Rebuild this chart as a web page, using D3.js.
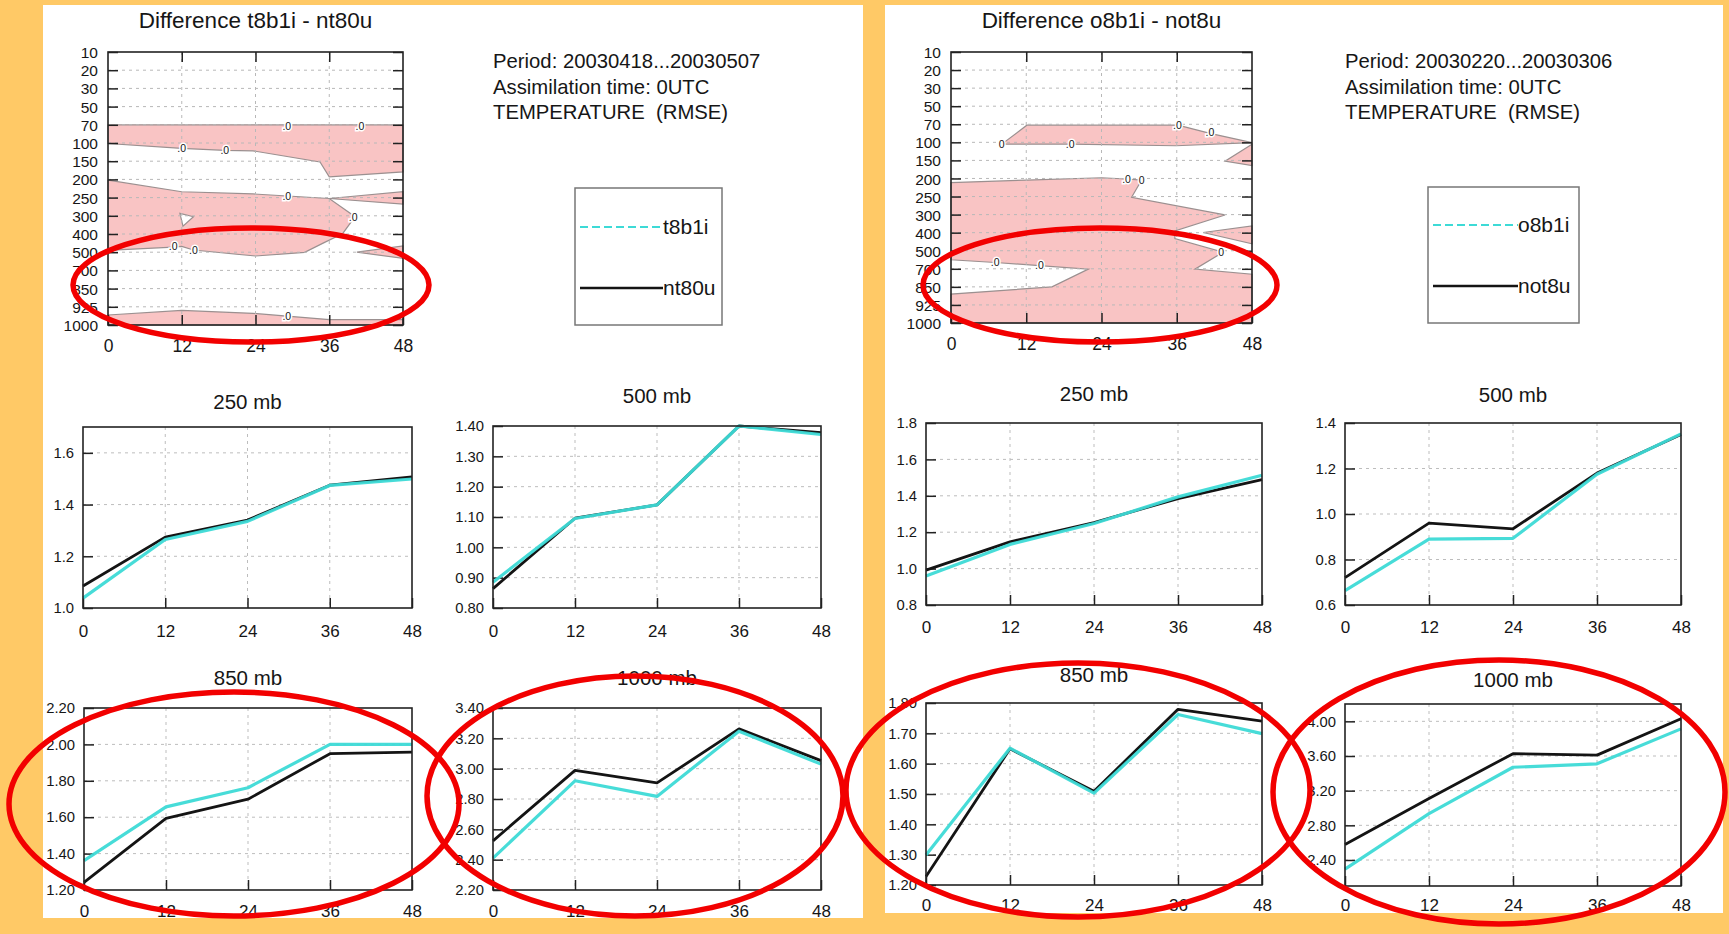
<!DOCTYPE html>
<html><head><meta charset="utf-8">
<script src="https://cdn.jsdelivr.net/npm/d3@7"></script>
<style>
html,body{margin:0;padding:0;background:#FFC966;}
svg{display:block;}
text{font-family:"Liberation Sans",Arial,Helvetica,sans-serif;fill:#161616;}
</style></head><body>
<svg id="c" width="1729" height="934"></svg>
<script>
// ---------------- DATA ----------------
const hours = [0, 12, 24, 36, 48];
const levels = ["10","20","30","50","70","100","150","200","250","300","400","500","700","850","925","1000"];

const titleA = "Difference t8b1i - nt80u";
const titleB = "Difference o8b1i - not8u";
const infoA = ["Period: 20030418...20030507", "Assimilation time: 0UTC", "TEMPERATURE  (RMSE)"];
const infoB = ["Period: 20030220...20030306", "Assimilation time: 0UTC", "TEMPERATURE  (RMSE)"];
const seriesA = ["t8b1i", "nt80u"];
const seriesB = ["o8b1i", "not8u"];
const levelTitles = ["250 mb", "500 mb", "850 mb", "1000 mb"];

// RMSE values per forecast hour
const A250_t8b1i  = [1.038, 1.265, 1.335, 1.474, 1.499];
const A250_nt80u  = [1.085, 1.274, 1.340, 1.475, 1.507];
const A500_t8b1i  = [0.885, 1.095, 1.140, 1.400, 1.372];
const A500_nt80u  = [0.864, 1.096, 1.140, 1.400, 1.378];
const A850_t8b1i  = [1.361, 1.657, 1.762, 2.000, 2.000];
const A850_nt80u  = [1.242, 1.594, 1.699, 1.949, 1.958];
const A1000_t8b1i = [2.410, 2.920, 2.817, 3.247, 3.030];
const A1000_nt80u = [2.524, 2.989, 2.906, 3.262, 3.053];
const B250_o8b1i  = [0.959, 1.133, 1.248, 1.394, 1.513];
const B250_not8u  = [0.992, 1.147, 1.253, 1.385, 1.489];
const B500_o8b1i  = [0.663, 0.890, 0.893, 1.175, 1.352];
const B500_not8u  = [0.720, 0.960, 0.935, 1.180, 1.349];
const B850_o8b1i  = [1.299, 1.651, 1.503, 1.762, 1.699];
const B850_not8u  = [1.228, 1.649, 1.509, 1.779, 1.740];
const B1000_o8b1i = [2.295, 2.936, 3.470, 3.510, 3.913];
const B1000_not8u = [2.579, 3.110, 3.627, 3.610, 4.030];

// y domains and tick labels
const A250_dom = [1.0, 1.7],  A250_ticks = [1.0, 1.2, 1.4, 1.6];
const A500_dom = [0.8, 1.4],  A500_ticks = [0.8, 0.9, 1.0, 1.1, 1.2, 1.3, 1.4];
const A850_dom = [1.2, 2.2],  A850_ticks = [1.2, 1.4, 1.6, 1.8, 2.0, 2.2];
const A1000_dom = [2.2, 3.4], A1000_ticks = [2.2, 2.4, 2.6, 2.8, 3.0, 3.2, 3.4];
const B250_dom = [0.8, 1.8],  B250_ticks = [0.8, 1.0, 1.2, 1.4, 1.6, 1.8];
const B500_dom = [0.6, 1.4],  B500_ticks = [0.6, 0.8, 1.0, 1.2, 1.4];
const B850_dom = [1.2, 1.8],  B850_ticks = [1.2, 1.3, 1.4, 1.5, 1.6, 1.7, 1.8];
const B1000_dom = [2.1, 4.2], B1000_ticks = [2.4, 2.8, 3.2, 3.6, 4.0];

// zero-difference contour regions: [forecast hour, level index]
const contourA = [
  [[0,4],[48,4],[48,6.59],[36,6.86],[34.5,6.04],[23.6,5.43],[19,5.4],[12,5.3],[0,5.03]],
  [[0,7.04],[12,7.68],[23.6,7.8],[36,8.05],[40.2,9.05],[38.2,9.97],[35,10.5],[32,11.01],[24,11.21],[13.9,10.88],[12,10.68],[10.6,10.72],[0,10.9]],
  [[36,8.05],[48,7.68],[48,8.36]],
  [[40.5,11.0],[48,10.66],[48,11.34]],
  [[0,14.45],[12,14.2],[23.6,14.36],[36,14.7],[48,14.7],[48,15],[0,15]]
];
const holesA = [
  [[11.7,8.87],[13.9,9.05],[12.2,9.57]]
];
const labelsA = [[29.1,4.08,".0"],[41,4.08,".0"],[12,5.3,".0"],[19,5.4,".0"],[29.1,7.92,".0"],[39.9,9.09,".0"],[10.6,10.7,".0"],[13.9,10.88,".0"],[29.1,14.5,".0"]];

const contourB = [
  [[8.1,5.1],[12.1,4.05],[36.2,4.05],[41.3,4.5],[48,5.02],[35.9,5.19],[19,5.1]],
  [[48,5.1],[43.7,6.04],[48,6.29]],
  [[0,7.23],[12.1,7.09],[24,6.96],[28,7.03],[30.4,7.09],[28.8,8.04],[43.7,9.02],[35.7,9.9],[35.7,10.33],[43.4,11.08],[38.9,12.02],[48,12.3],[48,15],[0,15],[0,13.4],[16.1,13.0],[21.9,12.02],[14.1,11.82],[7.05,11.65],[0,11.5]],
  [[40.2,9.99],[48,9.63],[48,10.62]]
];
const holesB = [];
const labelsB = [[8.1,5.1,"0"],[19,5.1,".0"],[36.1,4.07,".0"],[41.3,4.47,".0"],[28,7.03,".0"],[30.4,7.09,"0"],[43.1,11.08,"0"],[7.05,11.65,".0"],[14.1,11.82,".0"]];

// ---------------- LAYOUT ----------------
const svg = d3.select("#c");
const FONT = '"Liberation Sans",Arial,Helvetica,sans-serif';
const CYAN = "#3ddad6", BLACK = "#141414", PINK = "#f9c4c4";

const panels = [
  {x:43, y:5, w:820, h:913},
  {x:885, y:5, w:838, h:908}
];
const defs = svg.append("defs");
panels.forEach((p,i)=>{
  defs.append("clipPath").attr("id","clip"+i).append("rect").attr("x",p.x).attr("y",p.y).attr("width",p.w).attr("height",p.h);
  svg.append("rect").attr("x",p.x).attr("y",p.y).attr("width",p.w).attr("height",p.h).attr("fill","#fff");
});
const gA = svg.append("g").attr("clip-path","url(#clip0)");
const gB = svg.append("g").attr("clip-path","url(#clip1)");

function styleAxis(a, size){
  a.select(".domain").remove();
  a.selectAll(".tick line").attr("stroke","#222").attr("stroke-width",1.5);
  a.selectAll(".tick text").attr("font-family",FONT).attr("font-size",size).attr("fill","#161616");
}

function contourPlot(g, cfg){
  const x = d3.scaleLinear().domain([0,48]).range([cfg.x0,cfg.x1]);
  const yi = d3.scaleLinear().domain([0,levels.length-1]).range([cfg.y0,cfg.y1]);
  const yp = d3.scalePoint().domain(levels).range([cfg.y0,cfg.y1]);
  const line = d3.line().x(d=>x(d[0])).y(d=>yi(d[1]));
  g.append("text").attr("x",(cfg.x0+cfg.x1)/2).attr("y",cfg.titleY).attr("text-anchor","middle")
    .attr("font-size",22.5).text(cfg.title);
  g.selectAll(null).data(cfg.regions).enter().append("path")
    .attr("d",d=>line(d)+"Z").attr("fill",PINK).attr("stroke","#9b9090").attr("stroke-width",1.2);
  g.selectAll(null).data(cfg.holes).enter().append("path")
    .attr("d",d=>line(d)+"Z").attr("fill","#fff").attr("stroke","#9b9090").attr("stroke-width",1.2);
  // grid
  const grid = g.append("g").attr("stroke","#b8b8b8").attr("stroke-width",1).attr("stroke-dasharray","3,4");
  levels.slice(1,-1).forEach(l=>grid.append("line").attr("x1",cfg.x0).attr("x2",cfg.x1).attr("y1",yp(l)).attr("y2",yp(l)));
  [12,24,36].forEach(h=>grid.append("line").attr("x1",x(h)).attr("x2",x(h)).attr("y1",cfg.y0).attr("y2",cfg.y1));
  // contour labels
  g.selectAll(null).data(cfg.labels).enter().append("text")
    .attr("x",d=>x(d[0])).attr("y",d=>yi(d[1])).attr("text-anchor","middle").attr("dy","0.35em")
    .attr("font-size",10.5).attr("stroke","#fff").attr("stroke-width",3).attr("paint-order","stroke")
    .text(d=>d[2]);
  // axes
  const aL = g.append("g").attr("transform",`translate(${cfg.x0},0)`)
    .call(d3.axisLeft(yp).tickSizeInner(-10).tickSizeOuter(0).tickPadding(10));
  styleAxis(aL,15.5);
  aL.selectAll(".tick text").attr("dy","0.36em");
  const aR = g.append("g").attr("transform",`translate(${cfg.x1},0)`)
    .call(d3.axisRight(yp).tickSizeInner(-10).tickSizeOuter(0).tickFormat(""));
  styleAxis(aR,10);
  const aB = g.append("g").attr("transform",`translate(0,${cfg.y1})`)
    .call(d3.axisBottom(x).tickValues(hours).tickSizeInner(-10).tickSizeOuter(0).tickPadding(15));
  styleAxis(aB,17.5);
  const aT = g.append("g").attr("transform",`translate(0,${cfg.y0})`)
    .call(d3.axisTop(x).tickValues([12,24,36]).tickSizeInner(-10).tickSizeOuter(0).tickFormat(""));
  styleAxis(aT,10);
  g.append("rect").attr("x",cfg.x0).attr("y",cfg.y0).attr("width",cfg.x1-cfg.x0).attr("height",cfg.y1-cfg.y0)
    .attr("fill","none").attr("stroke","#222").attr("stroke-width",1.6);
}

function lineChart(g, cfg){
  const x = d3.scaleLinear().domain([0,48]).range([cfg.x0,cfg.x1]);
  const y = d3.scaleLinear().domain(cfg.dom).range([cfg.y1,cfg.y0]);
  g.append("text").attr("x",(cfg.x0+cfg.x1)/2).attr("y",cfg.titleY).attr("text-anchor","middle")
    .attr("font-size",20.5).text(cfg.title);
  const grid = g.append("g").attr("stroke","#bdbdbd").attr("stroke-width",1).attr("stroke-dasharray","3,4");
  cfg.ticks.filter(t=>t>cfg.dom[0]+1e-9 && t<cfg.dom[1]-1e-9).forEach(t=>
    grid.append("line").attr("x1",cfg.x0).attr("x2",cfg.x1).attr("y1",y(t)).attr("y2",y(t)));
  [12,24,36].forEach(h=>grid.append("line").attr("x1",x(h)).attr("x2",x(h)).attr("y1",cfg.y0).attr("y2",cfg.y1));
  const aL = g.append("g").attr("transform",`translate(${cfg.x0},0)`)
    .call(d3.axisLeft(y).tickValues(cfg.ticks).tickFormat(d3.format(cfg.fmt)).tickSizeInner(-10).tickSizeOuter(0).tickPadding(9));
  styleAxis(aL,14.8);
  const aB = g.append("g").attr("transform",`translate(0,${cfg.y1})`)
    .call(d3.axisBottom(x).tickValues(hours).tickSizeInner(-10).tickSizeOuter(0).tickPadding(cfg.xpad));
  styleAxis(aB,17);
  const ln = d3.line().x((d,i)=>x(hours[i])).y(d=>y(d));
  g.append("path").datum(cfg.s2).attr("d",ln).attr("fill","none").attr("stroke",BLACK).attr("stroke-width",2.8).attr("stroke-linejoin","round");
  g.append("path").datum(cfg.s1).attr("d",ln).attr("fill","none").attr("stroke",CYAN).attr("stroke-width",3.2).attr("stroke-linejoin","round").attr("opacity",0.95);
  g.append("rect").attr("x",cfg.x0).attr("y",cfg.y0).attr("width",cfg.x1-cfg.x0).attr("height",cfg.y1-cfg.y0)
    .attr("fill","none").attr("stroke","#222").attr("stroke-width",1.6);
}

function infoBlock(g, cfg){
  cfg.lines.forEach((t,i)=>g.append("text").attr("x",cfg.tx).attr("y",cfg.ty+i*25.5)
    .attr("font-size",20.3).style("white-space","pre").text(t));
  g.append("rect").attr("x",cfg.bx).attr("y",cfg.by).attr("width",cfg.bw).attr("height",cfg.bh)
    .attr("fill","none").attr("stroke","#777").attr("stroke-width",1.5);
  g.append("line").attr("x1",cfg.bx+5).attr("x2",cfg.lx).attr("y1",cfg.l1y).attr("y2",cfg.l1y)
    .attr("stroke",CYAN).attr("stroke-width",2.2).attr("stroke-dasharray","8,4");
  g.append("line").attr("x1",cfg.bx+5).attr("x2",cfg.lx).attr("y1",cfg.l2y).attr("y2",cfg.l2y)
    .attr("stroke",BLACK).attr("stroke-width",2.4);
  g.append("text").attr("x",cfg.lx).attr("y",cfg.l1y+7).attr("font-size",21).text(cfg.names[0]);
  g.append("text").attr("x",cfg.lx).attr("y",cfg.l2y+7).attr("font-size",21).text(cfg.names[1]);
}

// Left panel
contourPlot(gA,{x0:108,x1:403,y0:52,y1:325,titleY:28,title:titleA,regions:contourA,holes:holesA,labels:labelsA});
infoBlock(gA,{lines:infoA,tx:493,ty:68,bx:575,by:188,bw:147,bh:137,lx:663,l1y:227,l2y:288,names:seriesA});
lineChart(gA,{x0:83,x1:412,y0:427,y1:608,titleY:409,title:levelTitles[0],dom:A250_dom,ticks:A250_ticks,fmt:".1f",s1:A250_t8b1i,s2:A250_nt80u,xpad:17});
lineChart(gA,{x0:493,x1:821,y0:426,y1:608,titleY:403,title:levelTitles[1],dom:A500_dom,ticks:A500_ticks,fmt:".2f",s1:A500_t8b1i,s2:A500_nt80u,xpad:17});
lineChart(gA,{x0:84,x1:412,y0:708,y1:890,titleY:685,title:levelTitles[2],dom:A850_dom,ticks:A850_ticks,fmt:".2f",s1:A850_t8b1i,s2:A850_nt80u,xpad:15});
lineChart(gA,{x0:493,x1:821,y0:708,y1:890,titleY:685,title:levelTitles[3],dom:A1000_dom,ticks:A1000_ticks,fmt:".2f",s1:A1000_t8b1i,s2:A1000_nt80u,xpad:15});

// Right panel
contourPlot(gB,{x0:951,x1:1252,y0:52,y1:323,titleY:28,title:titleB,regions:contourB,holes:holesB,labels:labelsB});
infoBlock(gB,{lines:infoB,tx:1345,ty:68,bx:1428,by:187,bw:151,bh:136,lx:1518,l1y:225,l2y:286,names:seriesB});
lineChart(gB,{x0:926,x1:1262,y0:423,y1:605,titleY:401,title:levelTitles[0],dom:B250_dom,ticks:B250_ticks,fmt:".1f",s1:B250_o8b1i,s2:B250_not8u,xpad:16});
lineChart(gB,{x0:1345,x1:1681,y0:423,y1:605,titleY:402,title:levelTitles[1],dom:B500_dom,ticks:B500_ticks,fmt:".1f",s1:B500_o8b1i,s2:B500_not8u,xpad:16});
lineChart(gB,{x0:926,x1:1262,y0:703,y1:885,titleY:682,title:levelTitles[2],dom:B850_dom,ticks:B850_ticks,fmt:".2f",s1:B850_o8b1i,s2:B850_not8u,xpad:14});
lineChart(gB,{x0:1345,x1:1681,y0:704,y1:886,titleY:687,title:levelTitles[3],dom:B1000_dom,ticks:B1000_ticks,fmt:".2f",s1:B1000_o8b1i,s2:B1000_not8u,xpad:13});

// Red annotation ellipses
const ellipses = [
  {cx:251, cy:285, rx:178, ry:57},
  {cx:1100, cy:285, rx:177, ry:57},
  {cx:234, cy:804, rx:225, ry:112},
  {cx:635, cy:796, rx:208, ry:120},
  {cx:1078, cy:790, rx:232, ry:127},
  {cx:1499, cy:792, rx:226, ry:132}
];
svg.selectAll("ellipse").data(ellipses).enter().append("ellipse")
  .attr("cx",d=>d.cx).attr("cy",d=>d.cy).attr("rx",d=>d.rx).attr("ry",d=>d.ry)
  .attr("fill","none").attr("stroke","#f20000").attr("stroke-width",5.5);
</script>
</body></html>
